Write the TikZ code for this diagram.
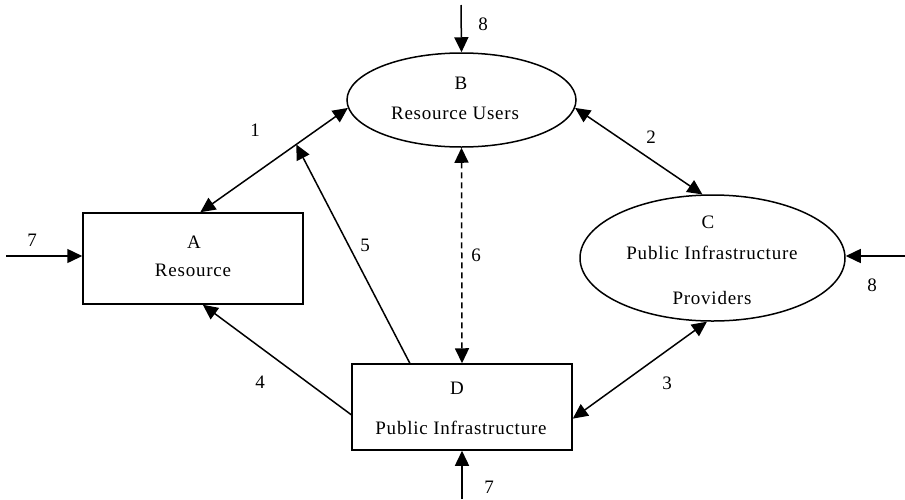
\documentclass[tikz,border=0pt]{standalone}
\usepackage{fontspec}
\setmainfont{Liberation Serif}[LetterSpace=4]
\usetikzlibrary{arrows.meta,shapes.geometric,calc}
\begin{document}
\begin{tikzpicture}[x=1pt,y=-1pt,
  txt/.style={font=\fontsize{19}{21}\selectfont, inner sep=0pt},
  boxshape/.style={draw, line width=1.5pt, rectangle, inner sep=0pt},
  ellshape/.style={draw, line width=1.5pt, ellipse, inner sep=0pt},
  conn/.style={line width=1.5pt, -{Triangle[length=15pt,width=14pt]}},
  biconn/.style={line width=1.5pt, {Triangle[length=15pt,width=14pt]}-{Triangle[length=15pt,width=14pt]}},
  lbl/.style={txt}]
\useasboundingbox (0,0) rectangle (905,499);
% shapes
\node[boxshape, minimum width=220pt, minimum height=91pt] (A) at (193,258.5) {};
\node[ellshape, minimum width=229pt, minimum height=94pt] (B) at (461.5,100) {};
\node[ellshape, minimum width=265pt, minimum height=126pt] (C) at (712.5,258) {};
\node[boxshape, minimum width=220pt, minimum height=86pt] (D) at (462,407) {};
% texts inside
\node[txt] (Ta1) at (194,242) {A};
\node[txt] (Ta2) at (193,270) {Resource};
\node[txt] (Tb1) at (461,83) {B};
\node[txt] (Tb2) at (455,113) {Resource Users};
\node[txt] (Tc1) at (708,222) {C};
\node[txt] (Tc2) at (712,253) {Public Infrastructure};
\node[txt] (Tc3) at (712,298) {Providers};
\node[txt] (Td1) at (457,388) {D};
\node[txt] (Td2) at (461,428) {Public Infrastructure};
% external ends
\coordinate (e7l) at (6,256);
\coordinate (e7b) at (462,499);
\coordinate (e8t) at (461,5);
\coordinate (e8r) at (905,256);
% connectors
\draw[biconn] (A.81) -- (B.184);
\coordinate (m1) at ($(A.81)!0.65!(B.184)$);
\draw[biconn] (B.-4) -- (C.99);
\draw[biconn] (C.265) -- (D.-6);
\draw[conn] (D.184) -- (A.282);
\draw[conn] (D.140) -- (m1);
\draw[biconn, dash pattern=on 6pt off 4pt] (B.south) -- (D.north);
\draw[conn] (e7l) -- (A.west |- e7l);
\draw[conn] (e7b) -- (D.south);
\draw[conn] (e8t) -- (B.north);
\draw[conn] (e8r) -- (C.east |- e8r);
% labels
\node[lbl] (L7a) at (32,240) {7};
\node[lbl] (L1) at (255,130) {1};
\node[lbl] (L2) at (651,137) {2};
\node[lbl] (L3) at (667,383) {3};
\node[lbl] (L4) at (260,382) {4};
\node[lbl] (L5) at (365,245) {5};
\node[lbl] (L6) at (476,255) {6};
\node[lbl] (L8a) at (483,24) {8};
\node[lbl] (L8b) at (872,285) {8};
\node[lbl] (L7b) at (489,487) {7};
\end{tikzpicture}
\end{document}
